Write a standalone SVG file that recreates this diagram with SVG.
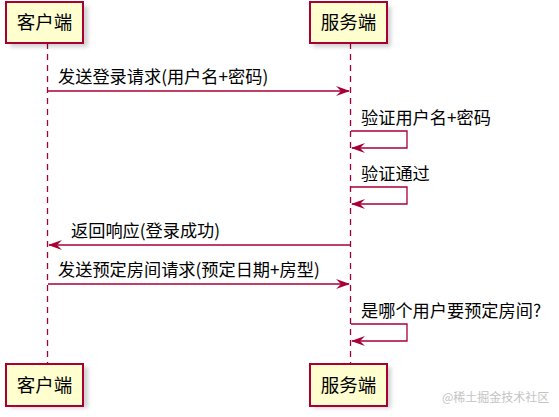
<svg xmlns="http://www.w3.org/2000/svg" width="559" height="417" viewBox="0 0 559 417">
<style>
.life{stroke:#A80036;stroke-width:1.3;stroke-dasharray:6,5;fill:none}
.box{fill:#FEFECE;stroke:#A80036;stroke-width:2}
.shadow{fill:#000;opacity:0.18;filter:url(#blur)}
.pt{font-family:"Noto Sans CJK SC","Liberation Sans",sans-serif;font-size:18.5px;fill:#000;text-anchor:middle}
.msg{font-family:"Noto Sans CJK SC","Liberation Sans",sans-serif;font-size:17.2px;fill:#000}
.ln{stroke:#A80036;stroke-width:1.3;fill:none}
.wm{font-family:"Noto Sans CJK SC","Liberation Sans",sans-serif;font-size:12px;fill:#c4c4c4}
</style>
<defs>
<filter id="blur" x="-20%" y="-20%" width="140%" height="140%"><feGaussianBlur stdDeviation="2"/></filter>
<marker id="ah" viewBox="0 0 14 10" refX="13" refY="5" markerWidth="14" markerHeight="10" markerUnits="userSpaceOnUse" orient="auto">
<polygon points="0,0 14,5 0,10 5,5" fill="#A80036"/>
</marker>
</defs>
<rect width="559" height="417" fill="#fff"/>
<g id="lifelines">
<line class="life" x1="47.5" y1="43" x2="47.5" y2="364"/>
<line class="life" x1="350.5" y1="43" x2="350.5" y2="364"/>
</g>
<g id="client-top">
<rect class="shadow" x="10" y="6" width="78" height="41"/>
<rect class="box" x="6" y="2" width="77" height="41"/>
<text class="pt" x="44.5" y="29">客户端</text>
</g>
<g id="server-top">
<rect class="shadow" x="313" y="6" width="78" height="41"/>
<rect class="box" x="310" y="2" width="77" height="41"/>
<text class="pt" x="348.5" y="29">服务端</text>
</g>
<g id="client-bottom">
<rect class="shadow" x="10" y="367" width="78" height="41"/>
<rect class="box" x="6" y="364" width="77" height="42"/>
<text class="pt" x="44.5" y="392">客户端</text>
</g>
<g id="server-bottom">
<rect class="shadow" x="313" y="367" width="78" height="41"/>
<rect class="box" x="310" y="364" width="77" height="42"/>
<text class="pt" x="348.5" y="392">服务端</text>
</g>
<g id="connectors">
<line class="ln" x1="48" y1="91" x2="349" y2="91" marker-end="url(#ah)"/>
<text class="msg" x="58" y="83">发送登录请求(用户名+密码)</text>
<polyline class="ln" points="351,131 407,131 407,148 352,148" marker-end="url(#ah)"/>
<text class="msg" x="361" y="124">验证用户名+密码</text>
<polyline class="ln" points="351,187 407,187 407,204 352,204" marker-end="url(#ah)"/>
<text class="msg" x="361" y="180">验证通过</text>
<line class="ln" x1="350" y1="245" x2="49" y2="245" marker-end="url(#ah)"/>
<text class="msg" x="71" y="237">返回响应(登录成功)</text>
<line class="ln" x1="48" y1="284" x2="349" y2="284" marker-end="url(#ah)"/>
<text class="msg" x="58" y="276">发送预定房间请求(预定日期+房型)</text>
<polyline class="ln" points="351,324 407,324 407,341 352,341" marker-end="url(#ah)"/>
<text class="msg" x="361" y="317">是哪个用户要预定房间?</text>
</g>
<text class="wm" x="442" y="402">@稀土掘金技术社区</text>
</svg>
